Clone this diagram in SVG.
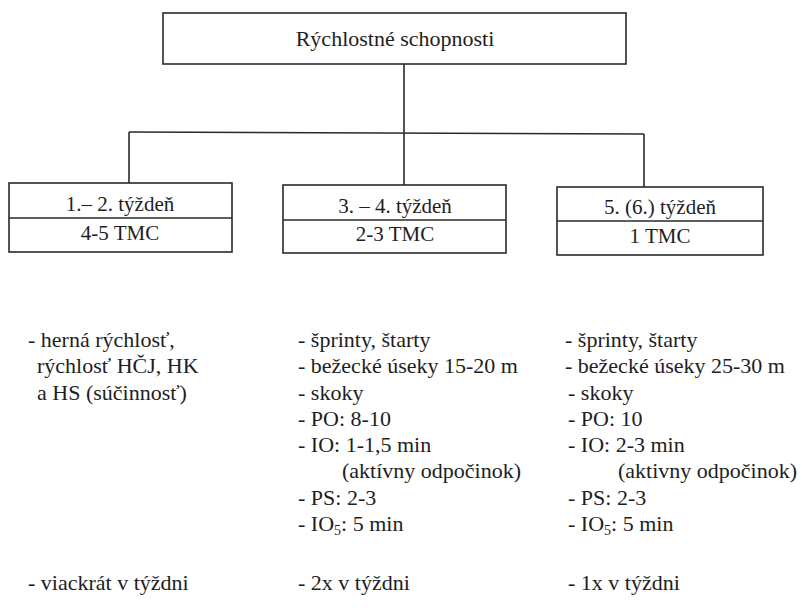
<svg xmlns="http://www.w3.org/2000/svg" width="802" height="614" viewBox="0 0 802 614">
<style>
.box{fill:#fff;stroke:#2a2a2a;stroke-width:1.6}
.ln{fill:none;stroke:#2a2a2a;stroke-width:1.6}
text{font-family:'Liberation Serif','DejaVu Serif',serif;fill:#1e1e1e}
.t{font-size:22px}
.c{text-anchor:middle}
.bt{font-size:21px;text-anchor:middle}
</style>
<rect width="802" height="614" fill="#fff"/>
<g id="connectors">
<line class="ln" x1="404" y1="64" x2="404" y2="133"/>
<line class="ln" x1="129" y1="132" x2="644" y2="134"/>
<line class="ln" x1="129" y1="132" x2="129" y2="183"/>
<line class="ln" x1="404" y1="133" x2="404" y2="185"/>
<line class="ln" x1="644" y1="134" x2="644" y2="187"/>
</g>
<g id="root">
<rect class="box" x="163" y="13" width="463" height="51"/>
<text class="t c" x="395" y="46" font-family="Liberation Serif, serif">Rýchlostné schopnosti</text>
</g>
<g id="week12">
<rect class="box" x="9" y="183" width="223" height="69"/>
<line class="ln" x1="9" y1="218" x2="232" y2="218"/>
<text class="bt" x="120" y="211">1.– 2. týždeň</text>
<text class="bt" x="120" y="240">4-5 TMC</text>
</g>
<g id="week34">
<rect class="box" x="283" y="185" width="223" height="68"/>
<line class="ln" x1="283" y1="220" x2="506" y2="220"/>
<text class="bt" x="395" y="213">3. – 4. týždeň</text>
<text class="bt" x="395" y="241">2-3 TMC</text>
</g>
<g id="week56">
<rect class="box" x="557" y="187" width="206" height="68"/>
<line class="ln" x1="557" y1="221" x2="763" y2="221"/>
<text class="bt" x="660" y="214">5. (6.) týždeň</text>
<text class="bt" x="660" y="243">1 TMC</text>
</g>
<g id="list1">
<text class="t" x="28" y="347">- herná rýchlosť,</text>
<text class="t" x="37" y="373">rýchlosť HČJ, HK</text>
<text class="t" x="37" y="400">a HS (súčinnosť)</text>
</g>
<g id="list2">
<text class="t" x="298" y="347">- šprinty, štarty</text>
<text class="t" x="298" y="373">- bežecké úseky 15-20 m</text>
<text class="t" x="298" y="400">- skoky</text>
<text class="t" x="298" y="426">- PO: 8-10</text>
<text class="t" x="298" y="452">- IO: 1-1,5 min</text>
<text class="t" x="342" y="478">(aktívny odpočinok)</text>
<text class="t" x="298" y="505">- PS: 2-3</text>
<text class="t" x="298" y="531">- IO<tspan font-size="14" dy="4">5</tspan><tspan dy="-4">: 5 min</tspan></text>
</g>
<g id="list3">
<text class="t" x="565" y="347">- šprinty, štarty</text>
<text class="t" x="565" y="373">- bežecké úseky 25-30 m</text>
<text class="t" x="568" y="400">- skoky</text>
<text class="t" x="568" y="426">- PO: 10</text>
<text class="t" x="568" y="452">- IO: 2-3 min</text>
<text class="t" x="618" y="478">(aktivny odpočinok)</text>
<text class="t" x="568" y="505">- PS: 2-3</text>
<text class="t" x="568" y="531">- IO<tspan font-size="14" dy="4">5</tspan><tspan dy="-4">: 5 min</tspan></text>
</g>
<g id="frequency">
<text class="t" x="28" y="590">- viackrát v týždni</text>
<text class="t" x="298" y="590">- 2x v týždni</text>
<text class="t" x="568" y="590">- 1x v týždni</text>
</g>
</svg>
